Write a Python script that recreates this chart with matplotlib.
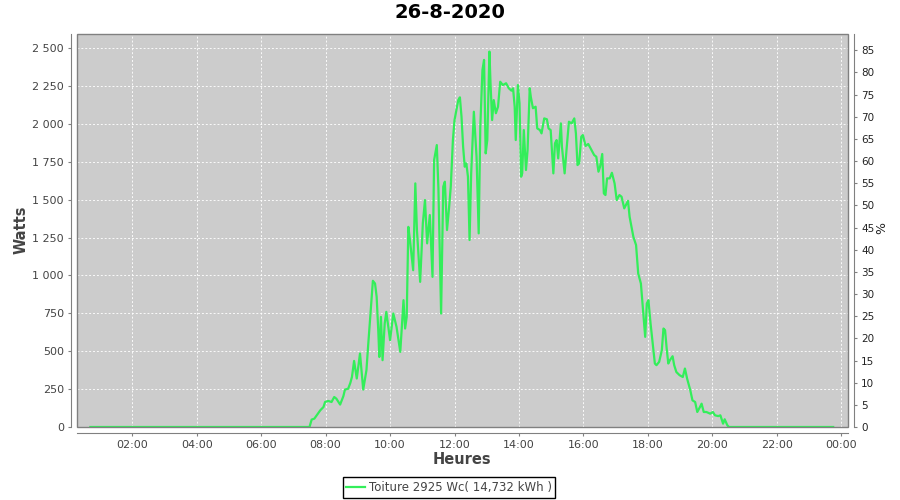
import matplotlib
matplotlib.use("Agg")
import matplotlib.pyplot as plt
from matplotlib.patches import Rectangle
from matplotlib.ticker import FuncFormatter, MultipleLocator

# puissance relevée (Watts) sur la journée
times = ["00:42", "01:30", "02:30", "03:30", "04:30", "05:30", "06:30", "07:00", "07:30",
         "07:34", "07:39", "07:50", "07:56", "07:59", "08:05", "08:11", "08:16", "08:20",
         "08:27", "08:33", "08:36", "08:42", "08:46", "08:49", "08:53", "08:58", "09:04",
         "09:10", "09:16", "09:19", "09:24", "09:28", "09:32", "09:35", "09:38", "09:40",
         "09:43", "09:46", "09:50", "09:53", "10:00", "10:06", "10:12", "10:19", "10:25",
         "10:28", "10:31", "10:34", "10:37", "10:43", "10:47", "10:50", "10:56", "11:01",
         "11:05", "11:09", "11:14", "11:19", "11:22", "11:27", "11:30", "11:35", "11:39",
         "11:42", "11:46", "11:50", "11:53", "11:57", "12:00", "12:07", "12:10", "12:13",
         "12:16", "12:19", "12:22", "12:25", "12:28", "12:31", "12:36", "12:41", "12:45",
         "12:48", "12:52", "12:55", "12:58", "13:01", "13:05", "13:07", "13:10", "13:13",
         "13:17", "13:21", "13:25", "13:30", "13:36", "13:41", "13:46", "13:49", "13:52",
         "13:54", "13:58", "14:01", "14:04", "14:06", "14:09", "14:13", "14:16", "14:20",
         "14:22", "14:26", "14:31", "14:34", "14:39", "14:42", "14:47", "14:52", "14:55",
         "14:59", "15:04", "15:07", "15:10", "15:13", "15:18", "15:20", "15:25", "15:29",
         "15:33", "15:38", "15:43", "15:46", "15:49", "15:52", "15:56", "15:59", "16:04",
         "16:09", "16:15", "16:20", "16:24", "16:28", "16:31", "16:35", "16:38", "16:41",
         "16:44", "16:49", "16:53", "16:58", "17:02", "17:07", "17:11", "17:16", "17:19",
         "17:23", "17:26", "17:33", "17:38", "17:42", "17:47", "17:52", "17:55", "17:58",
         "18:01", "18:05", "18:09", "18:13", "18:16", "18:21", "18:26", "18:29", "18:32",
         "18:35", "18:38", "18:41", "18:46", "18:49", "18:53", "18:59", "19:05", "19:09",
         "19:13", "19:19", "19:23", "19:28", "19:32", "19:37", "19:40", "19:44", "19:49",
         "19:56", "20:01", "20:05", "20:11", "20:15", "20:20", "20:23", "20:28", "20:31",
         "21:00", "22:00", "23:00", "23:45"]
watts = [0, 0, 0, 0, 0, 0, 0, 0, 0,
         49, 55, 110, 132, 165, 172, 165, 198, 187,
         148, 203, 247, 253, 291, 330, 436, 320, 485,
         247, 375, 529, 771, 965, 947, 859, 639, 462,
         727, 441, 683, 760, 573, 749, 661, 496, 837,
         650, 727, 1321, 1234, 1035, 1608, 1300, 958, 1344,
         1498, 1212, 1399, 991, 1762, 1861, 1575, 749, 1586,
         1619, 1300, 1454, 1586, 1894, 2026, 2158, 2176, 2048,
         1850, 1718, 1740, 1652, 1234, 1674, 2081, 1784, 1278,
         1982, 2357, 2423, 1806, 1894, 2478, 2269, 2026, 2158,
         2071, 2114, 2279, 2257, 2269, 2236, 2220, 2236, 2114,
         1894, 2257, 2137, 1652, 1674, 1960, 1696, 1828, 2236,
         2180, 2104, 2114, 1971, 1960, 1938, 2037, 2031, 1971,
         1960, 1674, 1872, 1894, 1773, 2004, 1850, 1674, 1850,
         2015, 2004, 2037, 1938, 1729, 1740, 1916, 1927, 1855,
         1868, 1828, 1795, 1784, 1685, 1718, 1802, 1542, 1531,
         1641, 1641, 1678, 1608, 1498, 1531, 1520, 1443, 1465,
         1493, 1387, 1255, 1201, 1013, 947, 727, 595, 815,
         837, 683, 551, 419, 408, 430, 507, 650, 639,
         518, 419, 441, 467, 408, 363, 342, 330, 386,
         320, 242, 176, 165, 99, 132, 154, 99, 99,
         88, 99, 77, 72, 77, 22, 51, 11, 0,
         0, 0, 0, 0]

peak_wc = 2925
serie_label = "Toiture 2925 Wc( 14,732 kWh )"
title = "26-8-2020"
xtick_hours = [2, 4, 6, 8, 10, 12, 14, 16, 18, 20, 22, 24]

hours = [int(t[:2]) + int(t[3:]) / 60 for t in times]

fig = plt.figure(figsize=(9, 5), dpi=100)
fig.patch.set_facecolor('white')
ax = fig.add_axes([77 / 900, 1 - 427 / 500, 771 / 900, 393 / 500])
ax.set_facecolor('#cccccc')

ax.plot(hours, watts, color='#33ee5a', linewidth=1.6, zorder=3)

ymax = 2594
ax.set_ylim(0, ymax)
ax.set_xlim(0.285, 24.21)

ax.yaxis.set_major_locator(MultipleLocator(250))
ax.yaxis.set_major_formatter(FuncFormatter(lambda v, p: f"{int(v):,}".replace(",", " ")))
ax.set_xticks(xtick_hours)
ax.set_xticklabels([f"{h % 24:02d}:00" for h in xtick_hours])

ax.grid(True, color='white', linestyle=(0, (2, 2)), linewidth=0.7, alpha=0.9)
ax.set_axisbelow(True)

for s in ['top', 'right']:
    ax.spines[s].set_visible(False)
for s in ['left', 'bottom']:
    ax.spines[s].set_position(('outward', 4))
    ax.spines[s].set_color('#808080')
ax.tick_params(colors='#808080', labelcolor='#444444', labelsize=8, length=2, width=0.8)
ax.add_patch(Rectangle((0, 0), 1, 1, transform=ax.transAxes, fill=False,
                       edgecolor='#808080', linewidth=1, clip_on=False, zorder=4))

# axe de droite en % de la puissance crête
ax2 = ax.twinx()
ax2.set_ylim(0, ymax / peak_wc * 100)
ax2.yaxis.set_major_locator(MultipleLocator(5))
ax2.patch.set_visible(False)
for s in ['top', 'left', 'bottom']:
    ax2.spines[s].set_visible(False)
ax2.spines['right'].set_position(('outward', 4))
ax2.spines['right'].set_color('#808080')
ax2.tick_params(colors='#808080', labelcolor='#222222', labelsize=7.5, length=2, width=0.8)

fig.text(0.5, 1 - 13 / 500, title, ha='center', va='center', fontsize=14, fontweight='bold')
fig.text(21 / 900, 1 - 230 / 500, 'Watts', rotation=90, ha='center', va='center',
         fontsize=10.5, fontweight='bold', color='#444444')
fig.text(462 / 900, 1 - 460 / 500, 'Heures', ha='center', va='center',
         fontsize=10.5, fontweight='bold', color='#444444')
fig.text(882 / 900, 1 - 228 / 500, '%', rotation=90, ha='center', va='center',
         fontsize=9, color='#222222')

leg = fig.legend([ax.lines[0]], [serie_label], loc='center', bbox_to_anchor=(449 / 900, 1 - 487.5 / 500),
                 fancybox=False, edgecolor='black', framealpha=1, fontsize=8.5,
                 handlelength=1.6, handletextpad=0.3, borderpad=0.3, borderaxespad=0)
leg.get_frame().set_linewidth(1)
for t in leg.get_texts():
    t.set_color('#444444')

plt.savefig('out.png', dpi=100, facecolor='white')
